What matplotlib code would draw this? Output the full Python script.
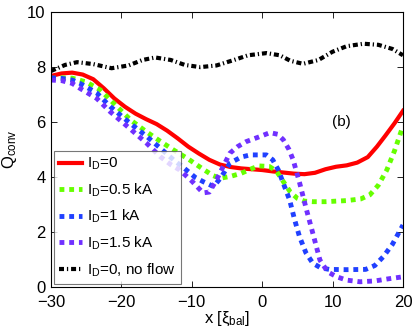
import matplotlib
matplotlib.use("Agg")
from matplotlib import pyplot as plt

plt.rcParams["font.family"] = ["Liberation Sans", "DejaVu Sans"]
plt.rcParams["mathtext.fontset"] = "custom"
plt.rcParams["mathtext.rm"] = "Liberation Sans"
plt.rcParams["mathtext.it"] = "Liberation Sans"

# values
x_i0 = [-30, -28.5, -27, -25.5, -24, -22.5, -21, -19.5, -18, -16.5, -15, -13.5, -12, -10.5, -9, -7.5, -6, -4.5, -3, -1.5, 0, 1.5, 3, 4.5, 6, 7.5, 9, 10.5, 12, 13.5, 15, 16.3, 17.5, 18.8, 20]
q_i0 = [7.67, 7.76, 7.79, 7.72, 7.55, 7.22, 6.85, 6.55, 6.30, 6.10, 5.92, 5.68, 5.40, 5.10, 4.85, 4.62, 4.45, 4.36, 4.31, 4.28, 4.25, 4.20, 4.16, 4.12, 4.10, 4.15, 4.28, 4.37, 4.42, 4.52, 4.72, 5.10, 5.50, 5.95, 6.40]

x_05 = [-30, -28.5, -27, -25, -23, -21, -18.7, -16.5, -14.5, -12.6, -10.5, -8.5, -7, -6, -4.5, -3, -1.5, -0.5, 1, 2, 3, 4, 5, 6, 7.2, 9, 12, 14, 15.3, 16.5, 17.7, 18.8, 20]
q_05 = [7.58, 7.60, 7.59, 7.45, 7.16, 6.65, 6.07, 5.65, 5.30, 4.98, 4.65, 4.30, 4.05, 3.95, 4.02, 4.13, 4.30, 4.40, 4.38, 4.22, 3.83, 3.45, 3.22, 3.12, 3.10, 3.10, 3.14, 3.20, 3.35, 3.70, 4.25, 4.95, 5.85]

x_10 = [-30, -28.5, -27, -25.9, -23.5, -21.6, -19, -16.4, -14.5, -12.6, -11, -9.5, -8.4, -6.9, -5.8, -4.6, -3, -1.7, 0.6, 1.5, 2.3, 3.1, 3.9, 4.6, 5.3, 6.2, 7.2, 8.3, 9.5, 12, 14.7, 16, 17.2, 18.5, 20]
q_10 = [7.60, 7.58, 7.52, 7.40, 7.05, 6.56, 6.0, 5.47, 5.05, 4.62, 4.30, 3.98, 3.83, 3.65, 4.0, 4.50, 4.72, 4.80, 4.80, 4.62, 4.25, 3.70, 3.16, 2.45, 1.83, 1.25, 0.86, 0.70, 0.64, 0.63, 0.64, 0.78, 1.10, 1.55, 2.25]

x_15 = [-30, -28.5, -27, -25.9, -23.5, -21.6, -19, -16.4, -14.5, -13, -11.7, -10, -8.4, -7.5, -6.5, -5.5, -4.6, -3.5, -2.3, -0.5, 1.1, 2.2, 3.0, 3.8, 4.4, 5.3, 6.3, 7.3, 8.2, 9.3, 10.6, 12, 13.9, 16, 18, 20]
q_15 = [7.52, 7.50, 7.40, 7.22, 6.85, 6.37, 5.80, 5.22, 4.74, 4.45, 4.25, 3.85, 3.42, 3.45, 3.89, 4.40, 4.86, 5.10, 5.28, 5.45, 5.61, 5.55, 5.35, 5.0, 4.62, 3.80, 2.80, 1.85, 0.98, 0.55, 0.37, 0.25, 0.19, 0.22, 0.30, 0.37]

x_nf = [-30, -28, -26.3, -24, -21.4, -19, -17, -15.2, -13, -11, -8.8, -6.5, -4, -2, 0.6, 2.5, 4, 5.8, 8, 10, 12, 14.4, 16.5, 18.5, 20]
q_nf = [7.85, 8.07, 8.17, 8.10, 7.95, 8.05, 8.25, 8.34, 8.25, 8.07, 7.99, 8.05, 8.25, 8.42, 8.50, 8.42, 8.22, 8.11, 8.25, 8.55, 8.75, 8.84, 8.80, 8.65, 8.42]

fig = plt.figure(figsize=(4.15, 3.28), dpi=100)
ax = fig.add_axes([0.123, 0.125, 0.848, 0.839])

ax.plot(x_i0, q_i0, color="#ff0000", lw=3, label=r"I$_\mathrm{D}$=0")
ax.plot(x_05, q_05, color="#66ff00", lw=3.5, dashes=(1, 1), dash_capstyle="butt", label=r"I$_\mathrm{D}$=0.5 kA")
ax.plot(x_10, q_10, color="#2040ff", lw=3.5, dashes=(1, 1), dash_capstyle="butt", label=r"I$_\mathrm{D}$=1 kA")
ax.plot(x_15, q_15, color="#7030ff", lw=3.5, dashes=(1, 1), dash_capstyle="butt", label=r"I$_\mathrm{D}$=1.5 kA")
ax.plot(x_nf, q_nf, color="black", lw=3, dashes=(1.2, 0.7, 0.3, 0.7), dash_capstyle="butt",
        label=r"I$_\mathrm{D}$=0, no flow")

ax.set_xlim(-30, 20)
ax.set_ylim(0, 10)
ax.set_xticks([-30, -20, -10, 0, 10, 20])
ax.set_yticks([0, 2, 4, 6, 8, 10])
ax.tick_params(direction="in", top=True, right=True, labelsize=12, length=4, width=0.6, pad=4)
ax.tick_params(axis="x", pad=6)
for s in ax.spines.values():
    s.set_linewidth(0.8)
ax.set_xlabel(r"x [$\xi_\mathrm{bal}$]", fontsize=12, labelpad=0)
ax.set_ylabel(r"Q$_\mathrm{conv}$", fontsize=12, labelpad=6)
ax.text(11.3, 6.0, "(b)", fontsize=11, ha="center", va="center")

leg = ax.legend(loc="lower left", fontsize=11, frameon=True, fancybox=False,
                borderaxespad=0.2, handlelength=1.5, handletextpad=0.3,
                labelspacing=0.6, borderpad=0.35)
leg.get_frame().set_edgecolor("#555555")
leg.get_frame().set_linewidth(0.8)

fig.savefig("out.png", dpi=100)
